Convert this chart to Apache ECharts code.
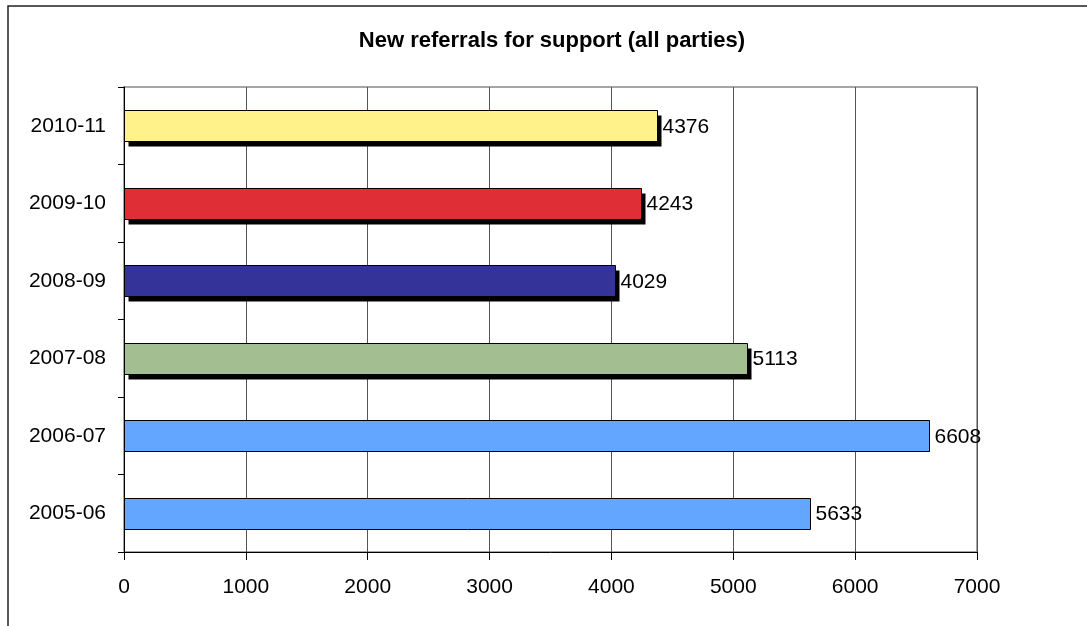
<!DOCTYPE html>
<html>
<head>
<meta charset="utf-8">
<script src="https://cdn.jsdelivr.net/npm/echarts@6/dist/echarts.min.js"></script>
<style>
html,body{margin:0;padding:0;background:#fff;}
#chart{width:1087px;height:626px;}
</style>
</head>
<body>
<div id="chart"></div>
<script>
const titleText = 'New referrals for support (all parties)';
const categories = ['2005-06', '2006-07', '2007-08', '2008-09', '2009-10', '2010-11'];
const referrals = [5633, 6608, 5113, 4029, 4243, 4376];
const barColors = ['#62A6FF', '#62A6FF', '#A3BF91', '#333399', '#DF2E36', '#FFF28B'];
const hasShadow = [false, false, true, true, true, true];
const xTicks = [0, 1000, 2000, 3000, 4000, 5000, 6000, 7000];

const font = '"Liberation Sans", Arial, sans-serif';
const chart = echarts.init(document.getElementById('chart'), null, {renderer: 'canvas'});

const BAR_H = 31, SHADOW = 5, LABEL_GAP = 5;

function renderBar(params, api) {
  const i = params.dataIndex;
  const v = api.value(0);
  const c = api.value(1);
  const end = api.coord([v, c]);
  const start = api.coord([0, c]);
  const x0 = Math.round(start[0]) + 0.5;
  const x1 = Math.round(end[0]) + 0.5;
  const yTop = Math.round(end[1] - BAR_H / 2) + 0.5;
  const children = [];
  if (hasShadow[i]) {
    children.push({
      type: 'rect',
      shape: {x: x0 + SHADOW - 1, y: yTop + SHADOW, width: x1 - x0, height: BAR_H},
      style: {fill: '#000'}
    });
  }
  children.push({
    type: 'rect',
    shape: {x: x0, y: yTop, width: x1 - x0, height: BAR_H},
    style: {fill: barColors[i], stroke: '#000', lineWidth: 1}
  });
  children.push({
    type: 'text',
    x: x1 + LABEL_GAP,
    y: end[1] + 1,
    style: {
      text: String(v),
      fontFamily: font,
      fontSize: 21,
      fill: '#000',
      verticalAlign: 'middle',
      align: 'left'
    }
  });
  return {type: 'group', children: children};
}

chart.setOption({
  animation: false,
  backgroundColor: '#fff',
  title: {
    text: titleText,
    left: 552,
    top: 30,
    textAlign: 'center',
    padding: 0,
    textStyle: {fontFamily: font, fontSize: 22, fontWeight: 'bold', color: '#000'}
  },
  graphic: [{
    type: 'rect',
    silent: true,
    shape: {x: 8, y: 6, width: 1200, height: 800},
    style: {fill: 'none', stroke: '#222', lineWidth: 1.5}
  }],
  grid: {
    left: 124,
    right: 110,
    top: 87,
    bottom: 74,
    show: true,
    borderColor: '#888',
    borderWidth: 1.5,
    backgroundColor: 'transparent'
  },
  xAxis: {
    type: 'value',
    min: xTicks[0],
    max: xTicks[xTicks.length - 1],
    interval: xTicks[1] - xTicks[0],
    axisLine: {show: true, lineStyle: {color: '#000', width: 1}},
    axisTick: {show: true, length: 8, lineStyle: {color: '#000'}},
    axisLabel: {margin: 25, fontFamily: font, fontSize: 21, color: '#000', formatter: v => String(v)},
    splitLine: {show: true, lineStyle: {color: '#555', width: 1}}
  },
  yAxis: {
    type: 'category',
    data: categories,
    axisLine: {show: true, lineStyle: {color: '#000', width: 1}},
    axisTick: {show: true, length: 6, alignWithLabel: false, lineStyle: {color: '#000'}},
    axisLabel: {margin: 18, fontFamily: font, fontSize: 21, color: '#000'},
    splitLine: {show: false}
  },
  series: [{
    type: 'custom',
    renderItem: renderBar,
    encode: {x: 0, y: 1},
    data: referrals.map((v, i) => [v, i])
  }]
});
</script>
</body>
</html>
